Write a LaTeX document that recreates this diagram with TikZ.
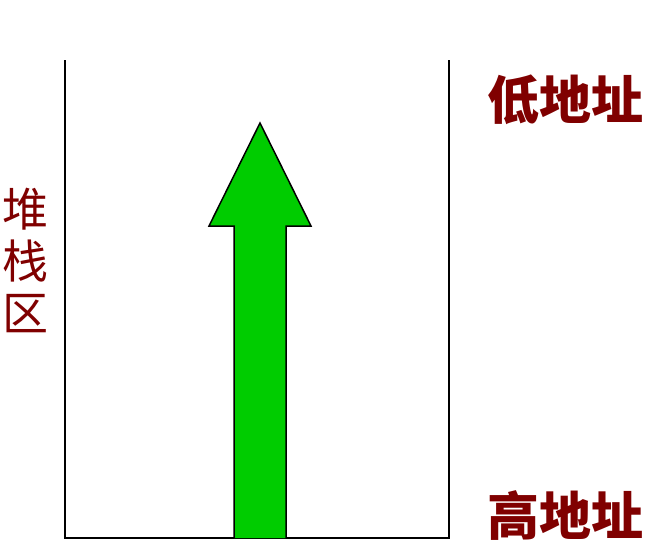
\documentclass[tikz,border=0pt]{standalone}
\usepackage{fontspec}
\newfontfamily\cjk{Noto Sans CJK SC}
\definecolor{darkred}{RGB}{128,0,0}
\definecolor{arrowgreen}{RGB}{0,204,0}
\tikzset{
  addr/.style={text=darkred, font=\cjk\bfseries\fontsize{52}{54}\selectfont, inner sep=0pt},
  zone/.style={text=darkred, font=\cjk\fontsize{46}{52}\selectfont, inner sep=0pt, align=center},
  wall/.style={line width=2pt, black},
  bigarrow/.style={fill=arrowgreen, draw=black, line width=1.5pt, line join=miter}
}
\begin{document}
\begin{tikzpicture}[x=1pt,y=-1pt]
\useasboundingbox (0,0) rectangle (656,554);
\draw[wall] (65,60) -- (65,538) -- (449,538) -- (449,60);
\draw[bigarrow] (234,538) -- (234,226) -- (209,226) -- (260,123) -- (311,226) -- (286,226) -- (286,538);
\node[addr] (low) at (565,100) {低地址};
\node[addr] (high) at (565,515) {高地址};
\node[zone] (stack) at (25,260) {堆\\栈\\区};
\end{tikzpicture}
\end{document}
